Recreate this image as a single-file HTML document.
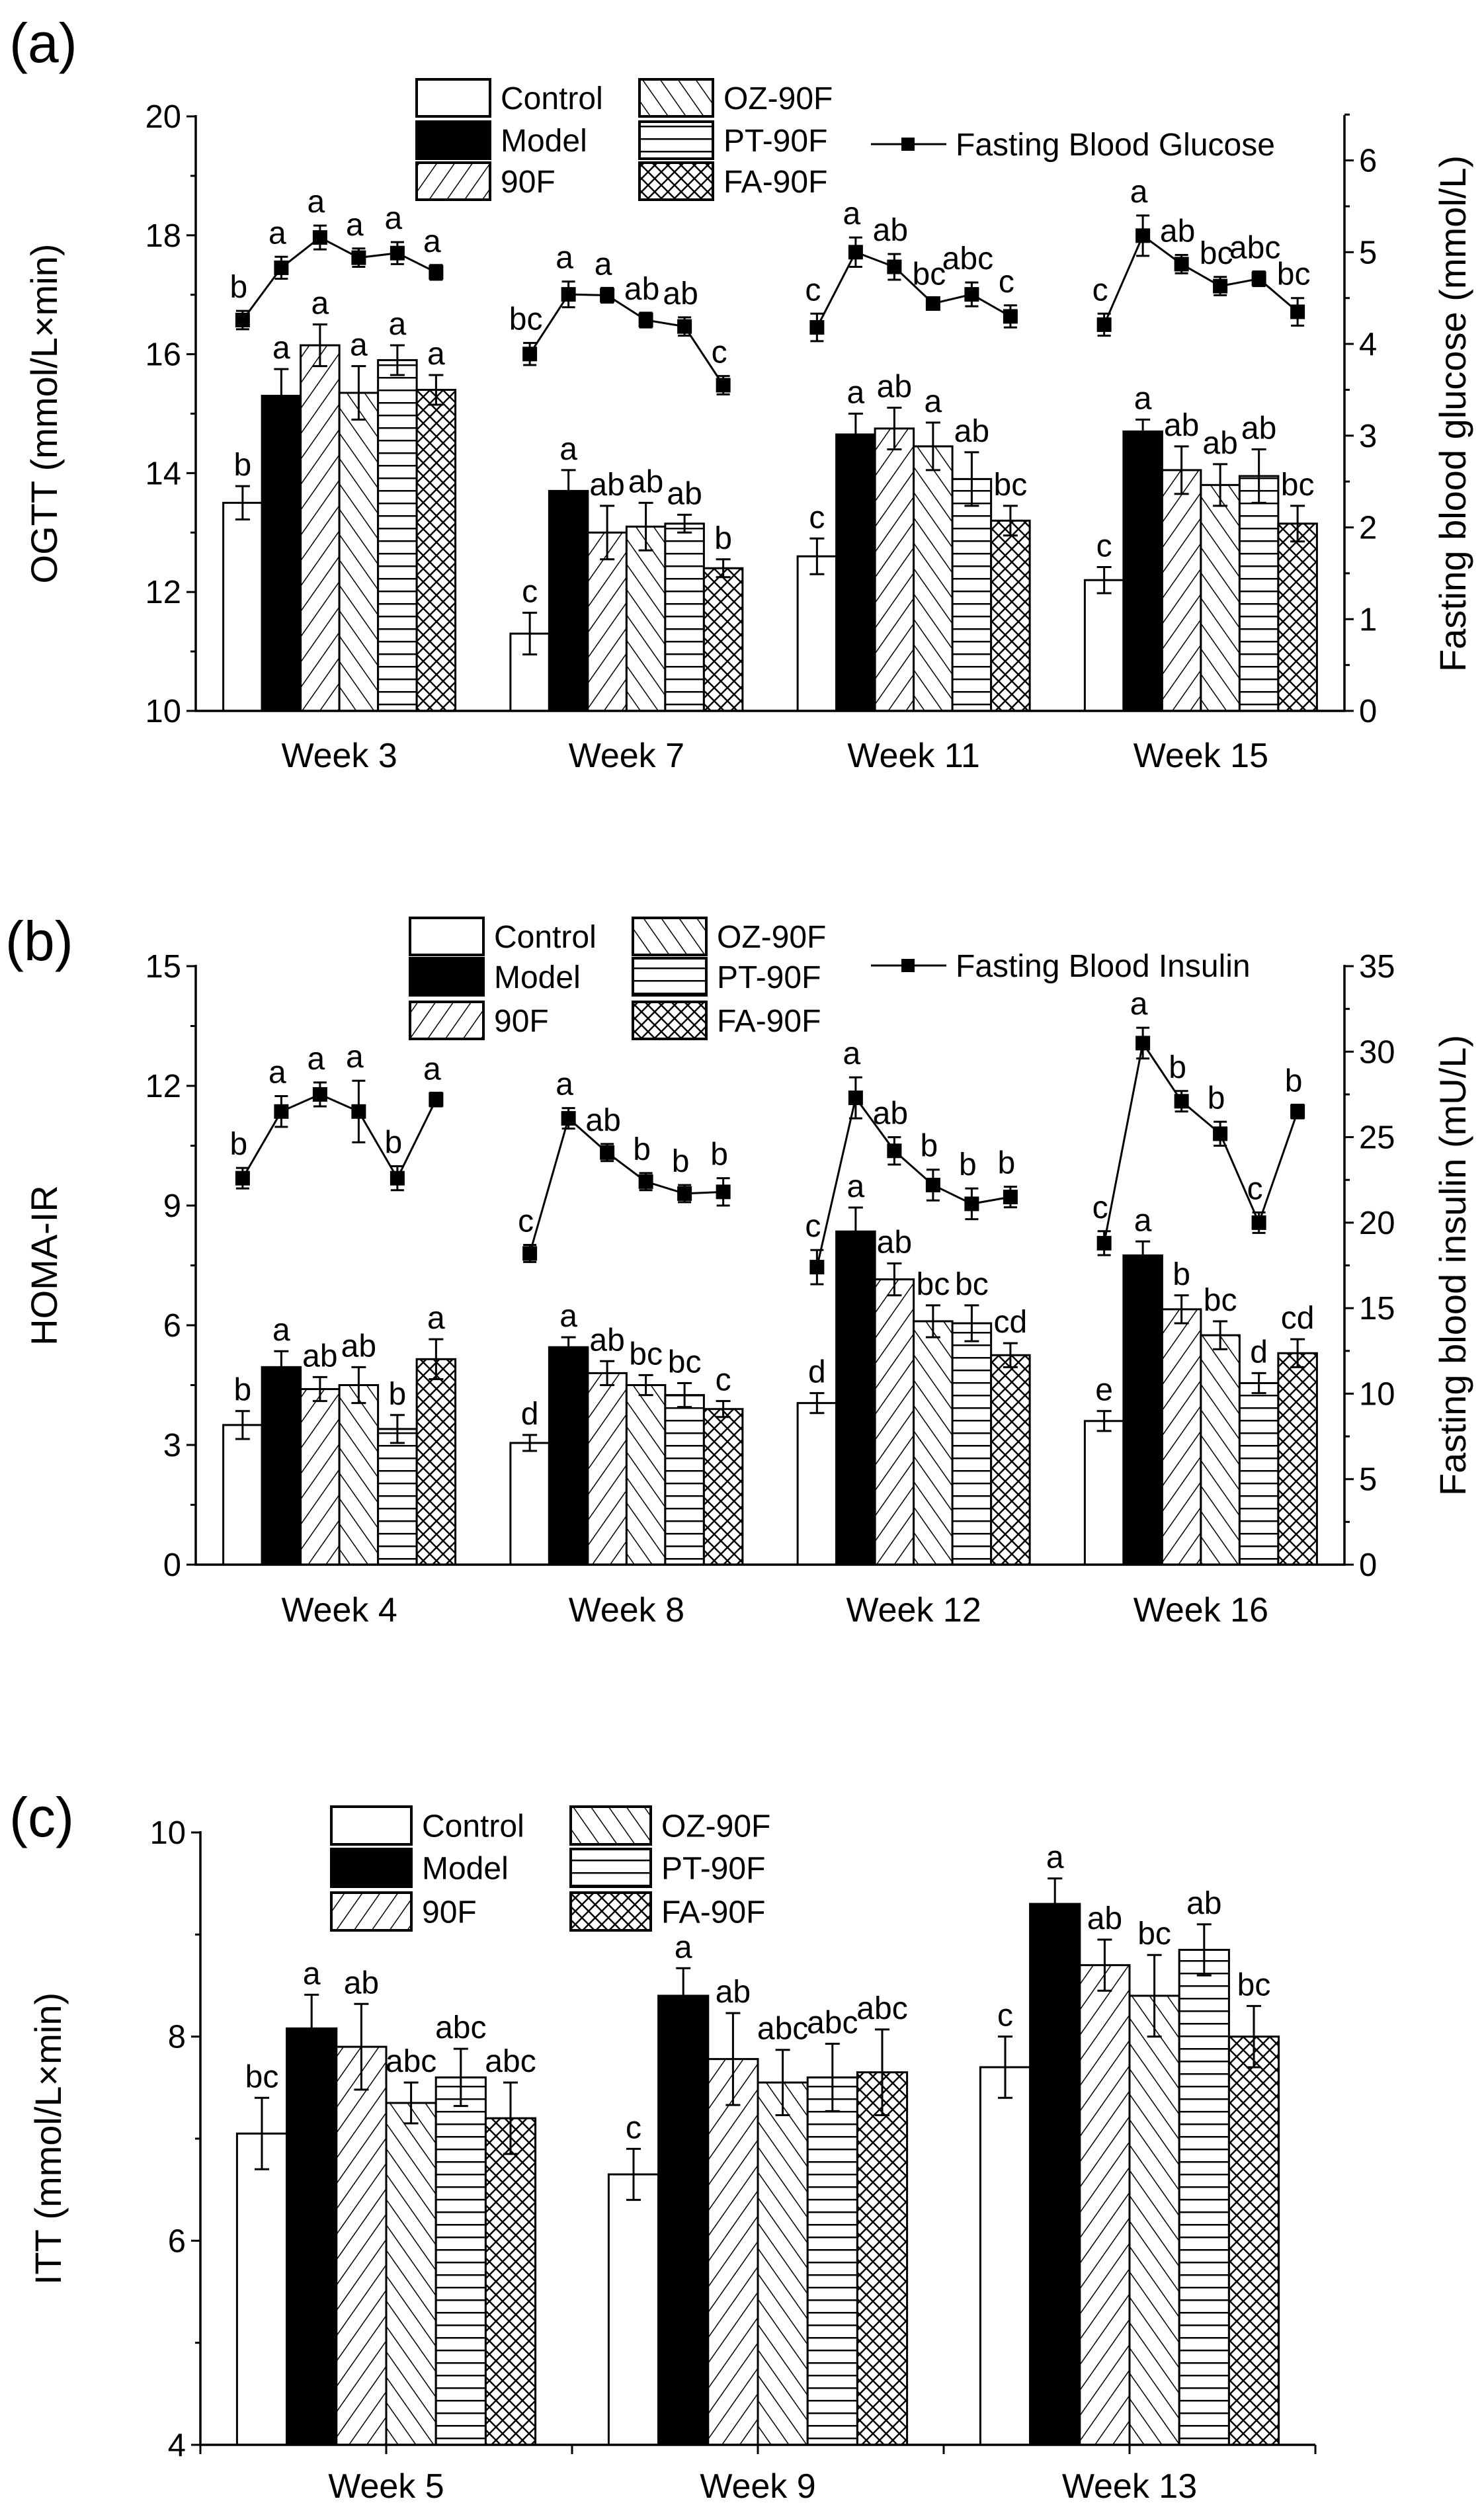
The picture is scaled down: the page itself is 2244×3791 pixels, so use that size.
<!DOCTYPE html>
<html><head><meta charset="utf-8">
<style>
html,body{margin:0;padding:0;background:#fff;}
svg{display:block;font-family:"Liberation Sans",Arial,sans-serif;}
</style></head>
<body>
<svg id="fig" width="2244" height="3791" viewBox="0 0 2244 3791" xmlns="http://www.w3.org/2000/svg">
<defs>
<pattern id="p90" patternUnits="userSpaceOnUse" width="22" height="22" patternTransform="rotate(35)"><rect width="22" height="22" fill="#fff"/><line x1="0" y1="0" x2="0" y2="22" stroke="#000" stroke-width="3"/></pattern>
<pattern id="pOZ" patternUnits="userSpaceOnUse" width="22" height="22" patternTransform="rotate(-35)"><rect width="22" height="22" fill="#fff"/><line x1="0" y1="0" x2="0" y2="22" stroke="#000" stroke-width="3"/></pattern>
<pattern id="pPT" patternUnits="userSpaceOnUse" width="20" height="19"><rect width="20" height="19" fill="#fff"/><line x1="0" y1="1" x2="20" y2="1" stroke="#000" stroke-width="3"/></pattern>
<pattern id="pFA" patternUnits="userSpaceOnUse" width="20" height="20"><rect width="20" height="20" fill="#fff"/><path d="M0 0L20 20M20 0L0 20" stroke="#000" stroke-width="2.5"/></pattern>
</defs>
</svg>
<script>
// ---------- data ----------
const seriesNames = ["Control","Model","90F","OZ-90F","PT-90F","FA-90F"];
// Panel a
const aCategories = ["Week 3","Week 7","Week 11","Week 15"];
const aBarValues = [[13.5,15.3,16.15,15.35,15.9,15.4],[11.3,13.7,13.0,13.1,13.15,12.4],[12.6,14.65,14.75,14.45,13.9,13.2],[12.2,14.7,14.05,13.8,13.95,13.15]];
const aBarErrors = [[0.28,0.45,0.35,0.45,0.25,0.25],[0.35,0.35,0.45,0.4,0.15,0.15],[0.3,0.35,0.35,0.4,0.45,0.25],[0.22,0.2,0.4,0.35,0.45,0.3]];
const aBarLetters = [["b","a","a","a","a","a"],["c","a","ab","ab","ab","b"],["c","a","ab","a","ab","bc"],["c","a","ab","ab","ab","bc"]];
const aLineValues = [[4.26,4.83,5.16,4.94,4.99,4.78],[3.89,4.54,4.53,4.26,4.19,3.55],[4.18,5.0,4.84,4.44,4.54,4.30],[4.21,5.18,4.87,4.63,4.71,4.35]];
const aLineErrors = [[0.1,0.12,0.13,0.1,0.12,0.08],[0.12,0.14,0.08,0.08,0.1,0.1],[0.15,0.16,0.14,0.06,0.13,0.12],[0.12,0.22,0.1,0.1,0.08,0.15]];
const aLineLetters = [["b","a","a","a","a","a"],["bc","a","a","ab","ab","c"],["c","a","ab","bc","abc","c"],["c","a","ab","bc","abc","bc"]];
const aLeftTicks = ["10","12","14","16","18","20"];
const aRightTicks = ["0","1","2","3","4","5","6"];
// Panel b
const bCategories = ["Week 4","Week 8","Week 12","Week 16"];
const bBarValues = [[3.5,4.95,4.4,4.5,3.4,5.15],[3.05,5.45,4.8,4.5,4.25,3.9],[4.05,8.35,7.15,6.1,6.05,5.25],[3.6,7.75,6.4,5.75,4.55,5.3]];
const bBarErrors = [[0.35,0.4,0.3,0.45,0.35,0.5],[0.2,0.25,0.3,0.25,0.3,0.2],[0.25,0.6,0.4,0.4,0.45,0.3],[0.25,0.35,0.35,0.35,0.25,0.35]];
const bBarLetters = [["b","a","ab","ab","b","a"],["d","a","ab","bc","bc","c"],["d","a","ab","bc","bc","cd"],["e","a","b","bc","d","cd"]];
const bLineValues = [[22.6,26.5,27.5,26.5,22.6,27.2],[18.2,26.1,24.1,22.4,21.7,21.8],[17.4,27.3,24.2,22.2,21.1,21.5],[18.8,30.5,27.1,25.2,20.0,26.5]];
const bLineErrors = [[0.6,0.9,0.7,1.8,0.7,0.4],[0.5,0.6,0.5,0.5,0.5,0.8],[1.0,1.2,0.8,0.9,0.9,0.6],[0.7,0.9,0.6,0.7,0.6,0.4]];
const bLineLetters = [["b","a","a","a","b","a"],["c","a","ab","b","b","b"],["c","a","ab","b","b","b"],["c","a","b","b","c","b"]];
const bLeftTicks = ["0","3","6","9","12","15"];
const bRightTicks = ["0","5","10","15","20","25","30","35"];
// Panel c
const cCategories = ["Week 5","Week 9","Week 13"];
const cBarValues = [[7.05,8.08,7.9,7.35,7.6,7.2],[6.65,8.4,7.78,7.55,7.6,7.65],[7.7,9.3,8.7,8.4,8.85,8.0]];
const cBarErrors = [[0.35,0.33,0.42,0.2,0.28,0.35],[0.25,0.27,0.45,0.32,0.33,0.42],[0.3,0.25,0.25,0.4,0.25,0.3]];
const cBarLetters = [["bc","a","ab","abc","abc","abc"],["c","a","ab","abc","abc","abc"],["c","a","ab","bc","ab","bc"]];
const cLeftTicks = ["4","6","8","10"];

// ---------- drawing ----------
const NS="http://www.w3.org/2000/svg";
const svg=document.getElementById('fig');
const fills=["#fff","#000","url(#p90)","url(#pOZ)","url(#pPT)","url(#pFA)"];
function mk(tag,attrs,parent,text){const e=document.createElementNS(NS,tag);for(const k in attrs)e.setAttribute(k,attrs[k]);if(text!==undefined)e.textContent=text;(parent||svg).appendChild(e);return e;}

function panel(o){
  const g=mk('g',{});
  
  
  const yL=v=>o.y0-(v-o.lmin)/(o.lmax-o.lmin)*(o.y0-o.y1);
  const yR=v=>o.y0-(v-o.rmin)/(o.rmax-o.rmin)*(o.y0-o.y1);
  const nG=o.cats.length, gw=(o.x1-o.x0)/nG, bw=o.bw;
  const bx=(gi,si)=>o.x0+gw*(gi+0.5)-3*bw+si*bw;
  const pl=mk('text',{x:o.labelX,y:o.labelY,'font-size':84},g,o.label);
  
  
  o.bars.forEach((grp,gi)=>grp.forEach((v,si)=>{
    const x=bx(gi,si), y=yL(v);
    const r=mk('rect',{x:x,y:y,width:bw,height:o.y0-y,fill:fills[si],stroke:'#000','stroke-width':3},g);
    
    
    const cx=x+bw/2, e=o.berr[gi][si];
    const eb=mk('path',{d:`M${cx} ${yL(v-e)}V${yL(v+e)}M${cx-11} ${yL(v+e)}H${cx+11}M${cx-11} ${yL(v-e)}H${cx+11}`,stroke:'#000','stroke-width':3,fill:'none'},g);
    
    
    const t=mk('text',{x:cx,y:yL(v+e)-16,'font-size':48,'text-anchor':'middle'},g,o.blet[gi][si]);
    
    
  }));
  if(o.line){
    o.line.forEach((grp,gi)=>{
      const pts=grp.map((v,si)=>[bx(gi,si)+bw/2,yR(v)]);
      const pl2=mk('polyline',{points:pts.map(p=>p.join(',')).join(' '),fill:'none',stroke:'#000','stroke-width':3},g);
      
      
      grp.forEach((v,si)=>{
        const [cx,cy]=pts[si], e=o.lerr[gi][si];
        const eb=mk('path',{d:`M${cx} ${yR(v-e)}V${yR(v+e)}M${cx-10} ${yR(v+e)}H${cx+10}M${cx-10} ${yR(v-e)}H${cx+10}`,stroke:'#000','stroke-width':3,fill:'none'},g);
        
        
        const m=mk('rect',{x:cx-11,y:cy-11,width:22,height:22,fill:'#000'},g);
        
        
        const t=mk('text',{x:cx-6,y:yR(v+e)-20,'font-size':48,'text-anchor':'middle'},g,o.llet[gi][si]);
        
        
      });
    });
  }
  const ax=mk('path',{d:`M${o.x0} ${o.y1-2}V${o.y0}H${o.x1}`+(o.right?`V${o.y1-2}`:''),fill:'none',stroke:'#000','stroke-width':3.5},g);
  
  
  const lstep=(o.lmax-o.lmin)/(o.lt.length-1);
  o.lt.forEach((lab,i)=>{
    const v=o.lmin+i*lstep, y=yL(v);
    mk('line',{x1:o.x0-14,x2:o.x0,y1:y,y2:y,stroke:'#000','stroke-width':3},g);
    if(i<o.lt.length-1){const ym=yL(v+lstep/2);mk('line',{x1:o.x0-8,x2:o.x0,y1:ym,y2:ym,stroke:'#000','stroke-width':3},g);}
    const t=mk('text',{x:o.x0-22,y:y+17,'font-size':49,'text-anchor':'end'},g,lab);
    
    
  });
  if(o.right){
    const rstep=o.rstep;
    o.rt.forEach((lab,i)=>{
      const v=o.rmin+i*rstep, y=yR(v);
      mk('line',{x1:o.x1,x2:o.x1+14,y1:y,y2:y,stroke:'#000','stroke-width':3},g);
      const ym=yR(v+rstep/2); if(ym>o.y1-3) mk('line',{x1:o.x1,x2:o.x1+8,y1:ym,y2:ym,stroke:'#000','stroke-width':3},g);
      const t=mk('text',{x:o.x1+22,y:y+17,'font-size':49},g,lab);
      
      
    });
    const rt=mk('text',{x:0,y:0,'font-size':56,'text-anchor':'middle',transform:`translate(${o.rTitleX},${(o.y0+o.y1)/2}) rotate(-90)`},g,o.rTitle);
    
    
  }
  if(o.xticks){
    for(let i=0;i<=nG*2;i++){const x=o.x0+gw*i/2;mk('line',{x1:x,x2:x,y1:o.y0,y2:o.y0+14,stroke:'#000','stroke-width':3},g);}
  }
  o.cats.forEach((c,gi)=>{
    const t=mk('text',{x:o.x0+gw*(gi+0.5),y:o.xLabY,'font-size':52,'text-anchor':'middle'},g,c);
    
    
  });
  const lt=mk('text',{x:0,y:0,'font-size':56,'text-anchor':'middle',transform:`translate(${o.lTitleX},${(o.y0+o.y1)/2}) rotate(-90)`},g,o.lTitle);
  
  
  const L=o.leg;
  seriesNames.forEach((n,i)=>{
    const col=Math.floor(i/3), row=i%3;
    const x=L.cx[col], y=L.ry[row];
    const r=mk('rect',{x:x,y:y,width:L.w,height:L.h,fill:fills[i],stroke:'#000','stroke-width':4},g);
    
    
    const t=mk('text',{x:x+L.w+16,y:y+L.h/2+17,'font-size':48},g,n);
    
    
  });
  if(L.lineText){
    mk('line',{x1:1317,x2:1431,y1:L.lineY,y2:L.lineY,stroke:'#000','stroke-width':3},g);
    mk('rect',{x:1363,y:L.lineY-10,width:20,height:20,fill:'#000'},g);
    const t=mk('text',{x:1445,y:L.lineY+17,'font-size':48},g,L.lineText);
    
    
  }
}

panel({name:'panel-a-ogtt',label:'(a)',labelX:14,labelY:94,x0:296,x1:2033,y0:1075,y1:176,bw:58.5,
  lmin:10,lmax:20,rmin:0,rmax:6.48,rstep:1,cats:aCategories,bars:aBarValues,berr:aBarErrors,blet:aBarLetters,
  line:aLineValues,lerr:aLineErrors,llet:aLineLetters,lt:aLeftTicks,rt:aRightTicks,right:true,
  lTitle:'OGTT (mmol/L×min)',lTitleX:86,rTitle:'Fasting blood glucose (mmol/L)',rTitleX:2216,xLabY:1160,
  leg:{cx:[630,967],ry:[120,184,246],w:111,h:56,lineText:'Fasting Blood Glucose',lineY:218}});
panel({name:'panel-b-homa-ir',label:'(b)',labelX:8,labelY:1452,x0:296,x1:2033,y0:2366,y1:1461,bw:58.5,
  lmin:0,lmax:15,rmin:0,rmax:35,rstep:5,cats:bCategories,bars:bBarValues,berr:bBarErrors,blet:bBarLetters,
  line:bLineValues,lerr:bLineErrors,llet:bLineLetters,lt:bLeftTicks,rt:bRightTicks,right:true,
  lTitle:'HOMA-IR',lTitleX:86,rTitle:'Fasting blood insulin (mU/L)',rTitleX:2216,xLabY:2452,
  leg:{cx:[620,957],ry:[1388,1449,1515],w:111,h:56,lineText:'Fasting Blood Insulin',lineY:1460}});
panel({name:'panel-c-itt',label:'(c)',labelX:14,labelY:2777,x0:303,x1:1989,y0:3697,y1:2771,bw:75.2,
  lmin:4,lmax:10,cats:cCategories,bars:cBarValues,berr:cBarErrors,blet:cBarLetters,
  lt:cLeftTicks,right:false,xticks:true,
  lTitle:'ITT (mmol/L×min)',lTitleX:92,xLabY:3777,
  leg:{cx:[501,863],ry:[2732,2796,2862],w:121,h:57}});
</script>
</body></html>
